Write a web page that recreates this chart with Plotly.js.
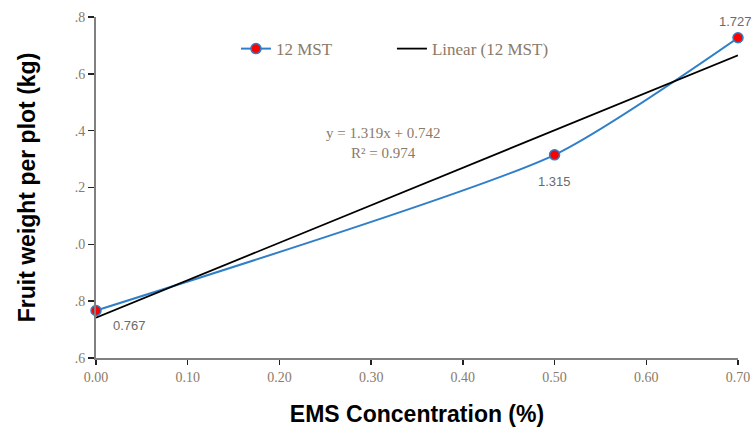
<!DOCTYPE html>
<html>
<head>
<meta charset="utf-8">
<script src="https://cdn.plot.ly/plotly-3.0.1.min.js"></script>
<style>html,body{margin:0;padding:0;background:#fff;}#chart{width:756px;height:428px;}</style>
</head>
<body>
<div id="chart"></div>
<script>
// data
const concentration = [0.00, 0.50, 0.70];
const fruitWeight = [0.767, 1.315, 1.727];
const pointLabels = ['0.767', '1.315', '1.727'];
const trendX = [0.00, 0.70];
const trendY = [0.742, 1.665];
const xTickVals = [0, 0.1, 0.2, 0.3, 0.4, 0.5, 0.6, 0.7];
const xTickText = ['0.00', '0.10', '0.20', '0.30', '0.40', '0.50', '0.60', '0.70'];
const yTickVals = [0.6, 0.8, 1.0, 1.2, 1.4, 1.6, 1.8];
const yTickText = ['.6', '.8', '.0', '.2', '.4', '.6', '.8'];
const equationLines = ['y = 1.319x + 0.742', 'R² = 0.974'];

const tan = '#8b7a68';
const serif = 'Liberation Serif, Times New Roman, serif';
const sans = 'Liberation Sans, Arial, sans-serif';

const traces = [
  {
    x: concentration, y: fruitWeight, name: '12 MST', type: 'scatter',
    mode: 'lines+markers',
    line: {color: '#2f7fc8', width: 2, shape: 'spline', smoothing: 0.6},
    marker: {color: '#ff0000', size: 10, line: {color: '#2f7fc8', width: 1.5}},
    cliponaxis: false
  },
  {
    x: trendX, y: trendY, name: 'Linear (12 MST)', type: 'scatter', mode: 'lines',
    line: {color: '#000000', width: 1.8},
    cliponaxis: false
  }
];

// data label offsets (pixels)
const labelShift = [{xs: 33, ys: -15}, {xs: 0, ys: -27}, {xs: -3, ys: 16}];
const annotations = pointLabels.map((t, i) => ({
  x: concentration[i], y: fruitWeight[i], xref: 'x', yref: 'y', text: t, showarrow: false,
  xshift: labelShift[i].xs, yshift: labelShift[i].ys,
  font: {family: sans, size: 13, color: '#6a6a6a'}
}));
annotations.push({
  x: 0.313, y: 1.358, xref: 'x', yref: 'y', text: equationLines.join('<br>'), showarrow: false,
  font: {family: serif, size: 15, color: tan}, align: 'center'
});

const layout = {
  width: 756, height: 428,
  margin: {l: 96, r: 18, t: 17, b: 70},
  paper_bgcolor: '#ffffff', plot_bgcolor: '#ffffff',
  showlegend: true,
  legend: {
    orientation: 'h', x: 0.218, y: 0.906, xanchor: 'left', yanchor: 'middle',
    font: {family: serif, size: 17, color: tan},
    bgcolor: 'rgba(0,0,0,0)', entrywidth: 111, entrywidthmode: 'pixels'
  },
  xaxis: {
    range: [0, 0.7], tickvals: xTickVals, ticktext: xTickText,
    showgrid: false, zeroline: false, showline: true, linecolor: '#808080', linewidth: 2,
    ticks: 'outside', ticklen: 5, tickcolor: '#222', tickwidth: 1.5,
    tickfont: {family: serif, size: 14, color: tan},
    title: {text: '<b>EMS Concentration (%)</b>', font: {family: sans, size: 23, color: '#000'}, standoff: 22}
  },
  yaxis: {
    range: [0.6, 1.8], tickvals: yTickVals, ticktext: yTickText,
    showgrid: false, zeroline: false, showline: true, linecolor: '#808080', linewidth: 2,
    ticks: 'outside', ticklen: 6, tickcolor: '#222', tickwidth: 1.5,
    tickfont: {family: serif, size: 14, color: tan},
    title: {text: '<b>Fruit weight per plot (kg)</b>', font: {family: sans, size: 23, color: '#000'}, standoff: 33}
  },
  annotations: annotations
};

Plotly.newPlot('chart', traces, layout, {displayModeBar: false, staticPlot: true});
</script>
</body>
</html>
